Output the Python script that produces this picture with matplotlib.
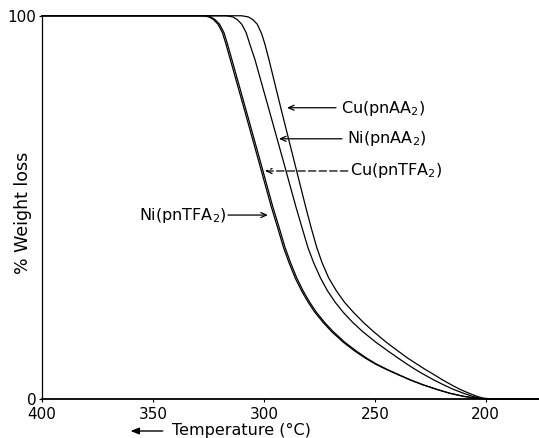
import matplotlib
matplotlib.use('Agg')
import matplotlib.pyplot as plt
from matplotlib.patches import FancyArrowPatch

# Temperature (deg C) / weight (%)
cu_tfa_t = [400, 327, 324, 322, 320, 318, 316.5, 314.4, 308, 301.8, 296, 293, 290.5, 288, 285.2,
            282.3, 279.3, 276.3, 272.5, 268.8, 263.5, 258.3, 253.5, 249.2, 244.7, 240.2, 234,
            228.2, 222, 216.2, 210, 204.2, 199, 176]
cu_tfa_w = [100, 100, 99.7, 99.0, 97.8, 95.6, 92.8, 88.5, 75.3, 62.4, 50.2, 44.5, 39.6, 35.6, 31.6,
            28.2, 25.2, 22.6, 19.9, 17.6, 14.8, 12.5, 10.6, 9.1, 7.8, 6.6, 5.0,
            3.7, 2.5, 1.5, 0.7, 0.2, 0, 0]

ni_tfa_t = [400, 327.6, 324.7, 322.7, 320.7, 318.7, 317.2, 315.1, 308.7, 302.5, 296.7, 293.7, 291.2,
            288.7, 285.9, 283.0, 280.0, 277.0, 273.2, 269.5, 264.2, 259.0, 254.1, 249.7, 245.1,
            240.5, 234.2, 228.3, 222, 216.2, 210, 204.2, 199, 176]
ni_tfa_w = [100, 100, 99.7, 99.0, 97.8, 95.6, 92.8, 88.5, 75.3, 62.4, 50.2, 44.5, 39.6,
            35.6, 31.6, 28.2, 25.2, 22.6, 19.9, 17.6, 14.8, 12.5, 10.6, 9.1, 7.8,
            6.6, 5.0, 3.7, 2.5, 1.5, 0.7, 0.2, 0, 0]

ni_aa_t = [400, 317, 314, 312, 310, 308, 306.3, 304, 297.6, 291.4, 285.6, 282.7, 280.2, 277.6,
           274.5, 271.3, 267.8, 264.2, 259.8, 255.5, 249.5, 244, 239.3, 235.5, 232, 228.5,
           223.5, 219, 214.5, 210, 206, 202.5, 197, 176]
ni_aa_w = [100, 100, 99.7, 99.0, 97.8, 95.6, 92.5, 88.5, 75.3, 62.4, 50.2, 44.5, 39.6, 35.6,
           31.6, 28.2, 25.2, 22.6, 19.9, 17.6, 14.8, 12.5, 10.6, 9.1, 7.8, 6.6,
           5.0, 3.7, 2.5, 1.5, 0.7, 0.2, 0, 0]

cu_aa_t = [400, 310, 307, 305, 303, 301, 299.5, 297.7, 292.1, 286.5, 281.2, 278.6, 276.2, 273.8,
           270.8, 267.3, 263.6, 259.6, 255, 250.6, 244.8, 239.5, 235, 231, 227.5, 224,
           219.5, 215.5, 211.5, 207.5, 204, 201, 196, 176]
cu_aa_w = [100, 100, 99.7, 99.0, 97.8, 95.3, 92.5, 88.5, 75.3, 62.4, 50.2, 44.5, 39.6, 35.6,
           31.6, 28.2, 25.2, 22.6, 19.9, 17.6, 14.8, 12.5, 10.6, 9.1, 7.8, 6.6,
           5.0, 3.7, 2.5, 1.5, 0.7, 0.2, 0, 0]

x_ticks = [400, 350, 300, 250, 200]
y_ticks = [0, 100]

# curve labels: text, text position, arrow tail, arrow tip, arrow line style
labels = [
    (r'Cu(pnAA$_2$)', (265.3, 75.7), (267.5, 76.0), (289.6, 76.0), '-'),
    (r'Ni(pnAA$_2$)', (262.6, 67.9), (264.8, 67.9), (293.2, 67.9), '-'),
    (r'Cu(pnTFA$_2$)', (261.2, 59.5), (262.2, 59.5), (299.5, 59.5), (0, (6, 2.5))),
]

fig = plt.figure(figsize=(5.39, 4.38), dpi=100)
ax = fig.add_axes([0.078, 0.089, 0.922, 0.875])

for t, w in [(cu_tfa_t, cu_tfa_w), (ni_tfa_t, ni_tfa_w), (ni_aa_t, ni_aa_w), (cu_aa_t, cu_aa_w)]:
    ax.plot(t, w, color='black', lw=0.9, clip_on=False)

arrow_style = '->,head_length=0.4,head_width=0.18'
for txt, pos, tail, tip, ls in labels:
    ax.text(pos[0], pos[1], txt, fontsize=11.5, ha='left', va='center')
    ax.annotate('', xy=tip, xytext=tail,
                arrowprops=dict(arrowstyle=arrow_style, color='black', lw=0.9,
                                linestyle=ls, shrinkA=0, shrinkB=0))

ax.text(316.8, 48.0, r'Ni(pnTFA$_2$)', fontsize=11.5, ha='right', va='center')
ax.annotate('', xy=(298.2, 48.0), xytext=(316.2, 48.0),
            arrowprops=dict(arrowstyle=arrow_style, color='black', lw=0.9, shrinkA=0, shrinkB=0))

ax.set_xlim(400, 176)
ax.set_ylim(0, 100)
ax.set_xticks(x_ticks)
ax.set_yticks(y_ticks)
ax.tick_params(axis='both', labelsize=11, length=2, width=0.8, pad=2)
ax.tick_params(axis='x', pad=3.5)
ax.spines['top'].set_visible(False)
ax.spines['right'].set_visible(False)
ax.spines['left'].set_linewidth(0.9)
ax.spines['bottom'].set_linewidth(1.3)

fig.text(0.042, 0.514, '% Weight loss', fontsize=12.5, rotation=90, ha='center', va='center')
fig.text(0.32, 0.016, 'Temperature (°C)', fontsize=11.5, ha='left', va='center')
fig.patches.append(FancyArrowPatch(
    (0.307, 0.016), (0.237, 0.016), transform=fig.transFigure,
    arrowstyle='-|>,head_length=0.5,head_width=0.2', color='black', lw=1.0,
    mutation_scale=10, figure=fig))

fig.savefig('out.png', dpi=100)
